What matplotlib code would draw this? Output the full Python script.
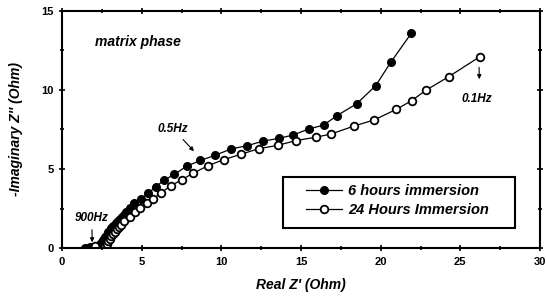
import matplotlib.pyplot as plt
from matplotlib.patches import Rectangle
from matplotlib.ticker import MultipleLocator

plt.rcParams['font.family'] = ['Liberation Sans', 'DejaVu Sans']
plt.rcParams['font.weight'] = 'bold'

# 6 hours immersion (filled)
x6 = [1.45, 1.75, 2.25, 2.4, 2.5, 2.6, 2.7, 2.8, 2.9, 3.0, 3.1, 3.2, 3.3, 3.4,
      3.5, 3.62, 3.75, 3.88, 4.03, 4.27, 4.53, 4.97, 5.39, 5.89, 6.39, 7.05,
      7.82, 8.69, 9.61, 10.60, 11.63, 12.63, 13.62, 14.50, 15.48, 16.42, 17.25,
      18.50, 19.69, 20.63, 21.92]
y6 = [0.0, 0.05, 0.1, 0.25, 0.4, 0.55, 0.7, 0.85, 1.0, 1.12, 1.25, 1.38, 1.5,
      1.62, 1.75, 1.88, 2.0, 2.12, 2.29, 2.52, 2.84, 3.13, 3.47, 3.89, 4.29,
      4.67, 5.18, 5.55, 5.87, 6.27, 6.48, 6.77, 6.94, 7.15, 7.53, 7.78, 8.37,
      9.13, 10.27, 11.74, 13.57]

# 24 hours immersion (open)
x24 = [2.05, 2.6, 2.7, 2.8, 2.9, 3.0, 3.1, 3.2, 3.3, 3.42, 3.55, 3.7, 3.92,
       4.25, 4.55, 4.90, 5.32, 5.74, 6.22, 6.81, 7.51, 8.25, 9.17, 10.16, 11.21,
       12.35, 13.55, 14.67, 15.92, 16.90, 18.33, 19.58, 20.98, 21.94, 22.86,
       24.28, 26.23]
y24 = [0.15, 0.02, 0.15, 0.3, 0.45, 0.6, 0.75, 0.9, 1.05, 1.2, 1.35, 1.5, 1.70,
       2.0, 2.27, 2.55, 2.84, 3.13, 3.51, 3.93, 4.33, 4.75, 5.22, 5.60, 5.93,
       6.29, 6.50, 6.80, 7.01, 7.22, 7.72, 8.10, 8.77, 9.32, 9.99, 10.84, 12.10]

fig = plt.figure(figsize=(5.46, 3.06), dpi=100)
ax = fig.add_axes([0.1136, 0.1886, 0.8754, 0.7764])

ax.plot(x6, y6, '-o', color='black', lw=0.9, ms=5.5, mfc='black', mec='black',
        label='6 hours immersion')
ax.plot(x24, y24, '-o', color='black', lw=0.9, ms=5.5, mfc='white', mec='black',
        mew=1.3, label='24 Hours Immersion')

ax.set_xlim(0, 30)
ax.set_ylim(0, 15)
ax.xaxis.set_major_locator(MultipleLocator(5))
ax.xaxis.set_minor_locator(MultipleLocator(2.5))
ax.yaxis.set_major_locator(MultipleLocator(5))
ax.yaxis.set_minor_locator(MultipleLocator(2.5))
ax.tick_params(which='both', direction='inout', top=True, right=True,
               labelsize=8, width=1.2)
ax.tick_params(which='major', length=5)
ax.tick_params(which='minor', length=3)
for s in ax.spines.values():
    s.set_linewidth(1.5)

ax.set_xlabel("Real Z' (Ohm)", fontsize=10, fontstyle='italic', fontweight='bold', labelpad=8)
ax.set_ylabel("-Imaginary Z'' (Ohm)", fontsize=10, fontstyle='italic', fontweight='bold', labelpad=13)

ax.text(2.1, 13.0, 'matrix phase', fontsize=10, fontstyle='italic',
        fontweight='bold', va='center')

ann = dict(fontsize=8.5, fontstyle='italic', fontweight='bold')
arr = dict(arrowstyle='-|>', color='black', lw=0.8, mutation_scale=6)
ax.annotate('0.5Hz', xy=(8.4, 6.0), xytext=(6.0, 7.55), va='center',
            arrowprops=arr, **ann)
ax.annotate('900Hz', xy=(1.9, 0.2), xytext=(0.8, 1.9), va='center',
            arrowprops=arr, **ann)
ax.annotate('', xy=(26.2, 10.5), xytext=(26.17, 11.6), arrowprops=arr)
ax.text(25.1, 9.4, '0.1Hz', va='center', **ann)

# legend box drawn separately so its padding can match the original
ax.add_patch(Rectangle((0.462, 0.085), 0.486, 0.215, transform=ax.transAxes,
                       facecolor='white', edgecolor='black', lw=1.5, zorder=4))
leg = ax.legend(loc='upper left', bbox_to_anchor=(0.51, 0.27), frameon=False,
                prop={'size': 10.5, 'style': 'italic', 'weight': 'bold'},
                handlelength=2.5, handletextpad=0.4, borderpad=0,
                labelspacing=0.35, borderaxespad=0)
leg.set_zorder(5)

fig.savefig('out.png', dpi=100)
